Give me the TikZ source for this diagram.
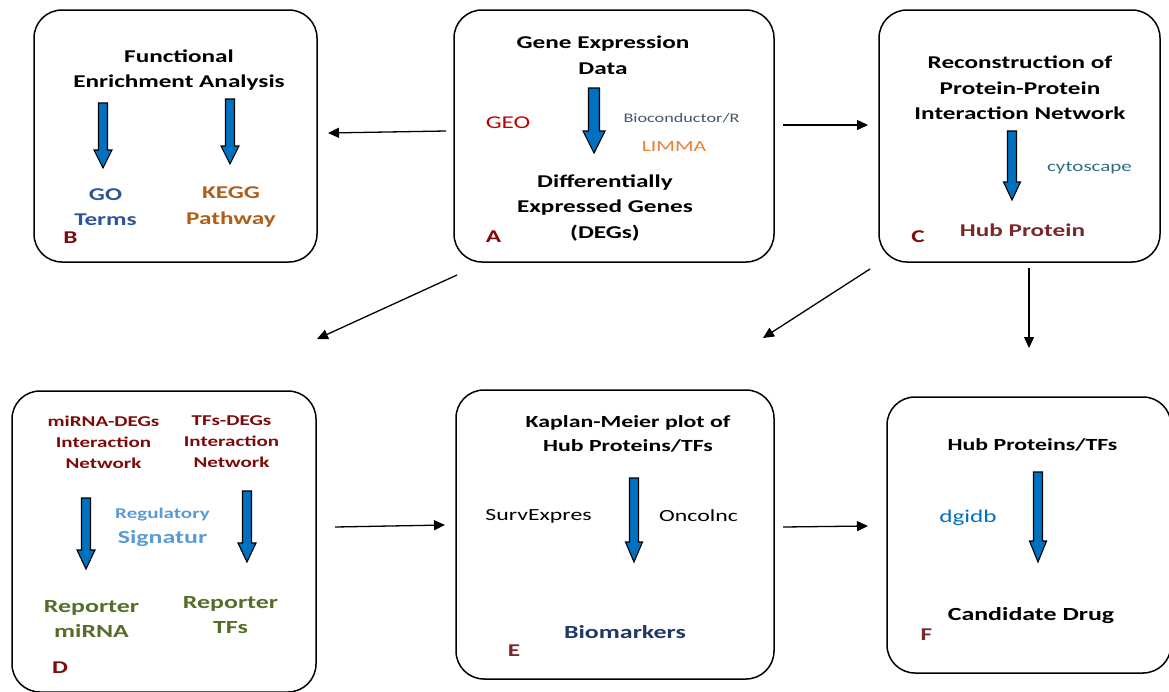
\documentclass[tikz,border=0pt]{standalone}
\usepackage{fontspec}
\setmainfont{Carlito}[FakeStretch=1.4]
\usetikzlibrary{arrows.meta}
\definecolor{arrowblue}{RGB}{0,112,192}
\definecolor{goblue}{RGB}{47,85,151}
\definecolor{keggbrown}{RGB}{175,95,25}
\definecolor{labred}{RGB}{128,10,10}
\definecolor{geored}{RGB}{192,0,0}
\definecolor{bioslate}{RGB}{68,84,106}
\definecolor{limmaorange}{RGB}{237,125,49}
\definecolor{cytoteal}{RGB}{49,108,125}
\definecolor{hubred}{RGB}{120,40,40}
\definecolor{netred}{RGB}{125,10,10}
\definecolor{reglight}{RGB}{91,155,213}
\definecolor{repgreen}{RGB}{84,110,40}
\definecolor{bionavy}{RGB}{31,56,100}
\definecolor{dgiblue}{RGB}{0,112,192}
\newcommand{\bluedown}[6]{%
  \draw[blockarr] (#1-#4,#2) -- (#1+#4,#2) -- (#1+#4,#3-#6) -- (#1+#5,#3-#6) -- (#1,#3) -- (#1-#5,#3-#6) -- (#1-#4,#3-#6) -- cycle;}
\tikzset{
  box/.style={draw=black, line width=1.5pt, rounded corners=28pt, inner sep=0pt},
  blockarr/.style={fill=arrowblue, draw=black, line width=1.1pt, line join=miter},
  conn/.style={draw=black, line width=1.3pt, -{Triangle[length=11pt,width=10pt]}},
  ttl/.style={font=\bfseries\fontsize{18}{25.5}\selectfont, align=center, inner sep=0pt},
  lab/.style={font=\bfseries\fontsize{18}{20}\selectfont, inner sep=0pt},
  txt/.style={inner sep=0pt, align=center},
}
\begin{document}
\begin{tikzpicture}[x=1pt, y=-1pt]
\useasboundingbox (0,0) rectangle (1169,691);
% boxes
\node[box, minimum width=283, minimum height=252] (B) at (175.5,136) {};
\node[box, minimum width=320, minimum height=252] (A) at (614,136) {};
\node[box, minimum width=281, minimum height=252] (C) at (1019.5,136) {};
\node[box, minimum width=304, minimum height=301] (D) at (164,541.5) {};
\node[box, minimum width=318, minimum height=289] (E) at (615,534.5) {};
\node[box, minimum width=284, minimum height=276] (F) at (1029,535) {};
% box B
\node[ttl] (Bt) at (179,70) {Functional\\Enrichment Analysis};
\node[ttl, text=goblue] (Bgo) at (105.5,207) {GO\\Terms};
\node[ttl, text=keggbrown] (Bkegg) at (231,207) {KEGG\\Pathway};
\node[lab, text=labred] (Bl) at (70.5,237.5) {B};
\bluedown{103}{103}{168}{4.5}{9}{18}
\bluedown{230}{99}{164}{4.5}{9}{18}
% box A
\node[ttl] (At) at (603,55) {Gene Expression\\Data};
\node[txt, font=\fontsize{18}{20}\selectfont, text=geored] (geo) at (508,122.5) {GEO};
\node[txt, font=\fontsize{13}{16}\selectfont, text=bioslate] (bioc) at (681.5,118) {Bioconductor/R};
\node[txt, font=\fontsize{15.5}{18}\selectfont, text=limmaorange] (limma) at (674,146.7) {LIMMA};
\node[ttl] (Ad) at (605,208) {Differentially\\Expressed Genes\\(DEGs)};
\node[lab, text=labred] (Al) at (493.5,237) {A};
\bluedown{594}{88}{153}{5.5}{11}{22}
% box C
\node[ttl] (Ct) at (1020,88) {Reconstruction of\\Protein-Protein\\Interaction Network};
\node[txt, font=\fontsize{15}{18}\selectfont, text=cytoteal] (cyto) at (1089.5,168) {cytoscape};
\node[ttl, text=hubred] (hub) at (1022.5,230.7) {Hub Protein};
\node[lab, text=labred] (Cl) at (918,237) {C};
\bluedown{1012}{131}{200}{4.5}{8.5}{18}
% box D
\node[txt, font=\bfseries\fontsize{15}{21}\selectfont, text=netred] (Dm) at (103.5,442) {miRNA-DEGs\\Interaction\\Network};
\node[txt, font=\bfseries\fontsize{15}{21}\selectfont, text=netred] (Dtf) at (231.5,442) {TFs-DEGs\\Interaction\\Network};
\node[txt, font=\bfseries\fontsize{15}{17}\selectfont, text=reglight] (reg) at (162.5,514) {Regulatory};
\node[txt, font=\bfseries\fontsize{18.5}{20}\selectfont, text=reglight] (sig) at (162.5,538.5) {Signatur};
\node[ttl, font=\bfseries\fontsize{18.5}{25.5}\selectfont, text=repgreen] (repm) at (91.5,619) {Reporter\\miRNA};
\node[ttl, font=\bfseries\fontsize{18.5}{25.5}\selectfont, text=repgreen] (rept) at (230.5,615) {Reporter\\TFs};
\node[lab, text=labred] (Dl) at (60,667.5) {D};
\bluedown{86}{498}{569}{4.5}{9}{19}
\bluedown{247}{491}{562}{4.5}{9}{19}
% box E
\node[ttl, font=\bfseries\fontsize{17}{23.5}\selectfont] (Et) at (628,434) {Kaplan-Meier plot of\\Hub Proteins/TFs};
\node[txt, font=\fontsize{17}{20}\selectfont] (surv) at (538.5,516) {SurvExpres};
\node[txt, font=\fontsize{17}{20}\selectfont] (onco) at (698.5,516) {Oncolnc};
\node[ttl, font=\bfseries\fontsize{18.5}{25.5}\selectfont, text=bionavy] (bio) at (625,632.5) {Biomarkers};
\node[lab, text=hubred] (El) at (514,651) {E};
\bluedown{634}{478}{562}{4.5}{8.5}{20}
% box F
\node[ttl, font=\bfseries\fontsize{17}{23.5}\selectfont] (Ft) at (1032.5,445) {Hub Proteins/TFs};
\node[txt, font=\fontsize{18}{20}\selectfont, text=dgiblue] (dgi) at (968,518) {dgidb};
\node[ttl, font=\bfseries\fontsize{18.5}{25.5}\selectfont] (drug) at (1031,616) {Candidate Drug};
\node[lab, text=hubred] (Fl) at (926.5,635) {F};
\bluedown{1038}{472}{562}{4.5}{8.5}{21}
% connector end points
\coordinate (ab1) at (446,131);  \coordinate (ab2) at (328,133);
\coordinate (ac1) at (783,125);  \coordinate (ac2) at (868,125);
\coordinate (ad1) at (457,275);  \coordinate (ad2) at (317,339);
\coordinate (ce1) at (870,269);  \coordinate (ce2) at (763,338);
\coordinate (cf1) at (1029,268); \coordinate (cf2) at (1029,348);
\coordinate (de1) at (335,527);  \coordinate (de2) at (445,525);
\coordinate (ef1) at (783,527);  \coordinate (ef2) at (868,526);
\draw[conn] (ab1) -- (ab2);
\draw[conn] (ac1) -- (ac2);
\draw[conn] (ad1) -- (ad2);
\draw[conn] (ce1) -- (ce2);
\draw[conn] (cf1) -- (cf2);
\draw[conn] (de1) -- (de2);
\draw[conn] (ef1) -- (ef2);
\end{tikzpicture}
\end{document}
